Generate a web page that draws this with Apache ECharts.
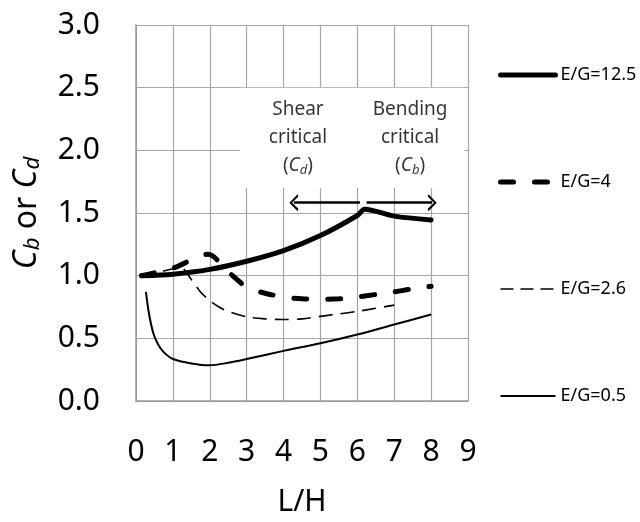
<!DOCTYPE html>
<html>
<head>
<meta charset="utf-8">
<script src="https://cdn.jsdelivr.net/npm/echarts@6/dist/echarts.min.js"></script>
<style>html,body{margin:0;padding:0;background:#fff;}#c{width:640px;height:522px;}</style>
</head>
<body>
<div id="c"></div>
<script>
// ---- data ----
const seriesNames = ['E/G=12.5', 'E/G=4', 'E/G=2.6', 'E/G=0.5'];
const eg125 = [[0.15,1.0],[1,1.012],[2,1.05],[3,1.115],[4,1.2],[5,1.32],[6,1.48],[6.2,1.53],[7,1.475],[8,1.445]];
const eg4 = [[0.15,1.0],[1,1.06],[1.95,1.17],[2.5,1.03],[3,0.91],[3.5,0.86],[4,0.83],[4.5,0.815],[5,0.81],[5.5,0.815],[6,0.83],[6.5,0.85],[7,0.87],[7.5,0.895],[8,0.915]];
const eg26 = [[0.15,1.0],[0.5,1.02],[1,1.055],[1.2,1.07],[1.5,0.97],[1.75,0.87],[2,0.8],[2.25,0.75],[2.5,0.715],[3,0.672],[3.5,0.655],[4,0.65],[4.5,0.655],[5,0.675],[5.5,0.695],[6,0.715],[6.5,0.74],[7,0.765]];
const eg05 = [[0.27,0.87],[0.35,0.7],[0.47,0.54],[0.6,0.45],[0.75,0.39],[1,0.335],[1.5,0.3],[2,0.285],[2.5,0.305],[3,0.335],[4,0.4],[5,0.46],[6,0.53],[7,0.61],[8,0.69]];
const xTicks = [0,1,2,3,4,5,6,7,8,9];
const yTicks = ['0.0','0.5','1.0','1.5','2.0','2.5','3.0'];
const shearLabel = ['Shear', 'critical', '(C', 'd', ')'];
const bendLabel = ['Bending', 'critical', '(C', 'b', ')'];
// annotation anchor positions (data units)
const shearPos = [4.39, 2.10];
const bendPos = [7.43, 2.10];
const arrowY = 1.582;
const arrowLeft = [6.07, 4.28];
const arrowRight = [6.25, 8.03];
const whiteBox = [[2.82, 1.70], [8.9, 2.5]];

const FONT = 'Noto Sans';
const chevron = 'path://M5,0 L10,8.6 L8.6,9.4 L5,2.8 L1.4,9.4 L0,8.6 Z';

const lineStyles = [
  {color: '#000', width: 5, type: 'solid', cap: 'round', join: 'round'},
  {color: '#000', width: 5, type: [13, 21], cap: 'round'},
  {color: '#000', width: 1.6, type: [14, 8]},
  {color: '#000', width: 2, type: 'solid'}
];

const chart = echarts.init(document.getElementById('c'), null, {renderer: 'canvas'});

function richLabel(arr) {
  return arr[0] + '\n' + arr[1] + '\n' + arr[2].replace('C', '{i|C}') + '{s|' + arr[3] + '}' + arr[4];
}
const annRich = {
  i: {fontStyle: 'italic', fontSize: 19, fontFamily: FONT, color: '#000'},
  s: {fontStyle: 'italic', fontSize: 13, fontFamily: FONT, color: '#000', padding: [8, 0, 0, 0]}
};

const legendLineStyles = [
  {color: '#000', width: 5, type: 'solid', cap: 'round'},
  {color: '#000', width: 5, type: [13, 21], cap: 'round'},
  {color: '#000', width: 1.6, type: [13, 7]},
  {color: '#000', width: 2, type: 'solid'}
];

const option = {
  backgroundColor: '#fff',
  animation: false,
  grid: {left: 136, right: 172, top: 25, bottom: 118, containLabel: false},
  legend: {
    orient: 'vertical',
    left: 493, top: 61,
    itemWidth: 55, itemHeight: 14, itemGap: 89, itemStyle: {opacity: 0},
    textStyle: {fontFamily: FONT, fontSize: 18, color: '#000', lineHeight: 14},
    data: seriesNames.map((n, i) => ({name: n, itemStyle: {opacity: 0}, lineStyle: legendLineStyles[i]})),
    selectedMode: false
  },
  xAxis: {
    type: 'value', min: 0, max: 9, interval: 1,
    name: 'L/H', nameLocation: 'middle', nameGap: 86,
    nameTextStyle: {fontFamily: FONT, fontSize: 30, color: '#000'},
    axisLine: {show: true, lineStyle: {color: '#999', width: 1.5}},
    axisTick: {show: false},
    axisLabel: {fontFamily: FONT, fontSize: 30, color: '#000', margin: 36,
      formatter: v => String(xTicks[v] !== undefined ? xTicks[v] : v)},
    splitLine: {show: true, lineStyle: {color: '#a6a6a6', width: 1.2}}
  },
  yAxis: {
    type: 'value', min: 0, max: 3, interval: 0.5,
    name: '{i|C}{s|b} or {i|C}{s|d}', nameLocation: 'middle', nameGap: 92,
    nameTextStyle: {fontFamily: FONT, fontSize: 32, color: '#000',
      rich: {
        i: {fontStyle: 'italic', fontSize: 32, fontFamily: FONT, color: '#000'},
        s: {fontStyle: 'italic', fontSize: 22, fontFamily: FONT, color: '#000', padding: [12, 0, 0, 0]}
      }},
    axisLine: {show: true, lineStyle: {color: '#999', width: 1.5}},
    axisTick: {show: false},
    axisLabel: {fontFamily: FONT, fontSize: 30, color: '#000', margin: 36,
      formatter: v => yTicks[Math.round(v * 2)]},
    splitLine: {show: true, lineStyle: {color: '#a6a6a6', width: 1.2}}
  },
  series: [
    {
      name: seriesNames[0], type: 'line', data: eg125, symbol: 'none', smooth: 0.3,
      lineStyle: lineStyles[0], itemStyle: {color: '#000'}, z: 5,
      markArea: {
        silent: true,
        itemStyle: {color: '#fff', opacity: 1, borderWidth: 0},
        data: [[{coord: whiteBox[0]}, {coord: whiteBox[1]}]]
      },
      markLine: {
        silent: true, animation: false,
        lineStyle: {color: '#000', width: 2.5, type: 'solid'},
        symbolSize: [17, 9],
        label: {show: false},
        data: [
          [{coord: [arrowLeft[0], arrowY], symbol: 'none'}, {coord: [arrowLeft[1], arrowY], symbol: chevron}],
          [{coord: [arrowRight[0], arrowY], symbol: 'none'}, {coord: [arrowRight[1], arrowY], symbol: chevron}]
        ]
      }
    },
    {
      name: seriesNames[1], type: 'line', data: eg4, symbol: 'none', smooth: 0.3,
      lineStyle: lineStyles[1], itemStyle: {color: '#000'}, z: 4
    },
    {
      name: seriesNames[2], type: 'line', data: eg26, symbol: 'none', smooth: 0.3,
      lineStyle: lineStyles[2], itemStyle: {color: '#000'}, z: 3
    },
    {
      name: seriesNames[3], type: 'line', data: eg05, symbol: 'none', smooth: 0.3,
      lineStyle: lineStyles[3], itemStyle: {color: '#000'}, z: 3
    },
    {
      name: 'annotations', type: 'scatter', symbolSize: 0, silent: true, z: 6,
      data: [
        {value: shearPos, label: {formatter: richLabel(shearLabel)}},
        {value: bendPos, label: {formatter: richLabel(bendLabel)}}
      ],
      label: {show: true, position: 'inside', fontFamily: FONT, fontSize: 19, color: '#000',
        lineHeight: 28, align: 'center', verticalAlign: 'middle', rich: annRich}
    }
  ]
};
chart.setOption(option);
</script>
</body>
</html>
